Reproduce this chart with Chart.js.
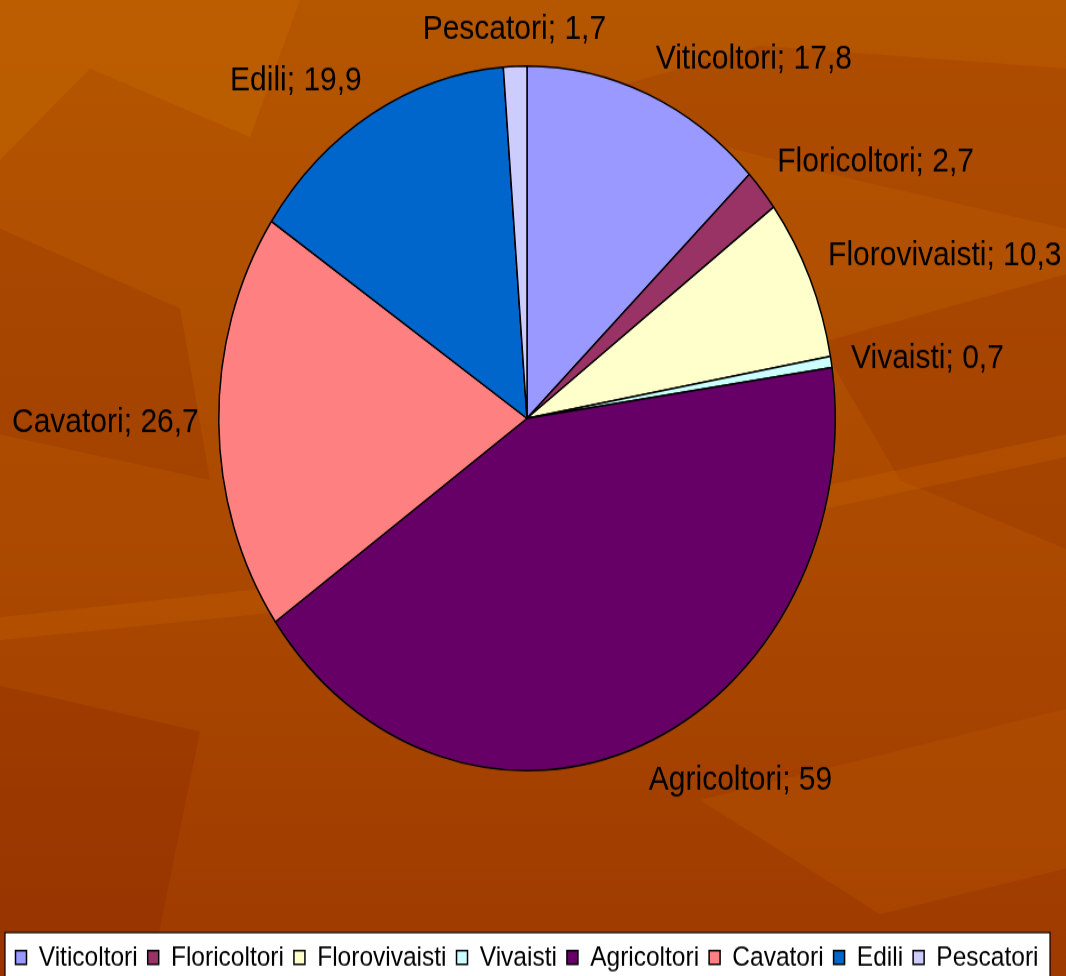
<!DOCTYPE html>
<html>
<head>
<meta charset="utf-8">
<script src="https://cdn.jsdelivr.net/npm/chart.js@4/dist/chart.umd.min.js"></script>
<style>
  html, body { margin: 0; padding: 0; background: #a84600; overflow: hidden; }
  #wrap { width: 1066px; height: 976px; overflow: hidden; }
  /* the original picture is stretched vertically, so the whole canvas is too */
  #torta { display: block; transform: scale(1, 1.1429); transform-origin: 0 0; }
</style>
</head>
<body>
<div id="wrap"><canvas id="torta" width="1066" height="854"></canvas></div>
<script>
const categorie = ["Viticoltori", "Floricoltori", "Florovivaisti", "Vivaisti", "Agricoltori", "Cavatori", "Edili", "Pescatori"];
const valori = [17.8, 2.7, 10.3, 0.7, 59, 26.7, 19.9, 1.7];
const colori = ["#9999FF", "#993366", "#FFFFCC", "#CCFFFF", "#660066", "#FF8080", "#0066CC", "#CCCCFF"];

const FONT = "'Liberation Sans', Arial, sans-serif";

// orange textured slide background + white legend frame
const sfondo = {
  id: "sfondo",
  beforeDraw(chart) {
    const c = chart.ctx;
    const w = chart.width, h = chart.height;
    c.save();
    const g = c.createLinearGradient(0, 0, 0, h);
    g.addColorStop(0, "#b55600");
    g.addColorStop(0.55, "#ab4a00");
    g.addColorStop(1, "#9e3a00");
    c.fillStyle = g;
    c.fillRect(0, 0, w, h);

    const macchie = [
      ["rgba(200,110,0,0.35)", [[0, 0], [300, 0], [250, 120], [90, 60], [0, 140]]],
      ["rgba(150,50,0,0.25)", [[560, 90], [760, 40], [1066, 60], [1066, 200], [820, 150]]],
      ["rgba(150,50,0,0.3)", [[820, 300], [1066, 240], [1066, 480], [900, 420]]],
      ["rgba(200,100,0,0.3)", [[0, 540], [420, 500], [1066, 380], [1066, 400], [400, 525], [0, 560]]],
      ["rgba(140,40,0,0.3)", [[0, 600], [200, 640], [150, 854], [0, 854]]],
      ["rgba(190,90,0,0.3)", [[700, 700], [1066, 620], [1066, 760], [880, 800]]],
      ["rgba(140,45,0,0.25)", [[0, 200], [180, 270], [210, 420], [0, 380]]]
    ];
    macchie.forEach(([col, pts]) => {
      c.fillStyle = col;
      c.beginPath();
      pts.forEach(([x, y], i) => i ? c.lineTo(x, y) : c.moveTo(x, y));
      c.closePath();
      c.fill();
    });

    const lg = chart.legend;
    c.fillStyle = "#ffffff";
    c.strokeStyle = "#000000";
    c.lineWidth = 1.2;
    c.fillRect(5, lg.top + 0.5, 1045, h);
    c.strokeRect(5, lg.top + 0.5, 1045, h);
    c.restore();
  },
  afterLayout(chart) {
    const lg = chart.legend;
    const alto = lg.bottom - lg.top;
    lg.top = 815.5;
    lg.bottom = lg.top + alto;
  }
};

// "Nome; valore" labels outside the slices
const etichette = {
  id: "etichette",
  afterDatasetsDraw(chart) {
    const c = chart.ctx;
    const meta = chart.getDatasetMeta(0);
    c.save();
    c.font = "30px " + FONT;
    c.fillStyle = "#000000";
    c.textBaseline = "middle";
    const hTesto = 24;
    meta.data.forEach((arc, i) => {
      const p = arc.getProps(["x", "y", "startAngle", "endAngle", "outerRadius"], true);
      const mid = (p.startAngle + p.endAngle) / 2;
      const R = p.outerRadius + 20;
      const ax = p.x + R * Math.cos(mid);
      const ay = p.y + R * Math.sin(mid);
      const dx = Math.cos(mid), su = -Math.sin(mid);
      c.textAlign = dx > 0.1 ? "left" : dx < -0.1 ? "right" : "center";
      let ty = ay;
      if (su > 0.3) ty = ay - hTesto / 2;
      else if (su < -0.3) ty = ay + hTesto / 2;
      const testo = categorie[i] + "; " + String(valori[i]).replace(".", ",");
      c.fillText(testo, ax, ty);
    });
    c.restore();
  }
};

new Chart(document.getElementById("torta"), {
  type: "pie",
  data: {
    labels: categorie,
    datasets: [{
      data: valori,
      backgroundColor: colori,
      borderColor: "#000000",
      borderWidth: 1.5
    }]
  },
  options: {
    responsive: false,
    devicePixelRatio: 1,
    animation: false,
    layout: {
      padding: { top: 57, bottom: 134.5, left: 0, right: 12 }
    },
    plugins: {
      legend: {
        position: "bottom",
        labels: {
          color: "#000000",
          font: { family: FONT, size: 24.5 },
          boxWidth: 11,
          boxHeight: 12,
          padding: 10
        }
      },
      tooltip: { enabled: false }
    }
  },
  plugins: [sfondo, etichette]
});
</script>
</body>
</html>
